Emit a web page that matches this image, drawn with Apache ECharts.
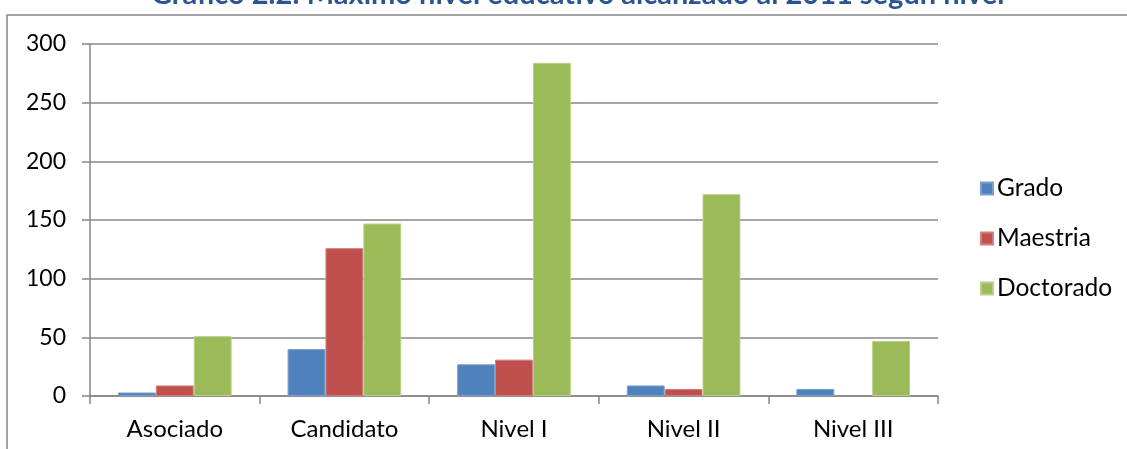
<!DOCTYPE html>
<html>
<head>
<meta charset="utf-8">
<script src="https://cdn.jsdelivr.net/npm/echarts@6/dist/echarts.min.js"></script>
<style>
  html, body { margin: 0; padding: 0; background: #fff; }
  #chart { width: 1127px; height: 449px; }
</style>
</head>
<body>
<div id="chart"></div>
<script>
// Categories (nivel) and counts per highest education level reached
const categories = ['Asociado', 'Candidato', 'Nivel I', 'Nivel II', 'Nivel III'];
const grado = [3, 40, 27, 9, 6];
const maestria = [9, 126, 31, 6, 0];
const doctorado = [51, 147, 284, 172, 47];
const yTicks = { min: 0, max: 300, interval: 50 };

const FONT = 'Lato';
const GRID = '#878787';

const chart = echarts.init(document.getElementById('chart'), null, { renderer: 'canvas' });

function barSeries(name, data, color, border) {
  return {
    name: name,
    type: 'bar',
    // zero-height bars get no outline so they stay invisible
    data: data.map(v => (v === 0 ? { value: v, itemStyle: { borderWidth: 0 } } : v)),
    barGap: '0%',
    barCategoryGap: '33%',
    itemStyle: { color: color, borderColor: border, borderWidth: 1 }
  };
}

chart.setOption({
  animation: false,
  textStyle: { fontFamily: FONT },
  title: {
    text: 'Gráfico 2.2: Máximo nivel educativo alcanzado al 2011 según nivel',
    left: 146,
    top: -25,
    textStyle: { fontFamily: FONT, fontSize: 29, fontWeight: 'bold', color: '#2A5590' }
  },
  graphic: [{
    type: 'rect',
    shape: { x: 7, y: 15, width: 1200, height: 500 },
    style: { fill: 'none', stroke: GRID, lineWidth: 1.5 },
    silent: true
  }],
  legend: {
    orient: 'vertical',
    left: 980,
    top: 176,
    padding: 0,
    itemWidth: 12,
    itemHeight: 12,
    itemGap: 25,
    icon: 'rect',
    textStyle: { fontFamily: FONT, fontSize: 24.5, color: '#000', padding: [0, 0, 0, -1] }
  },
  grid: { left: 90, right: 1127 - 938, top: 44, bottom: 449 - 396, containLabel: false },
  xAxis: {
    type: 'category',
    data: categories,
    axisLine: { lineStyle: { color: GRID, width: 1.5 } },
    axisTick: { show: true, length: 8, inside: false, lineStyle: { color: GRID, width: 1.5 } },
    axisLabel: { color: '#000', fontSize: 24, fontFamily: FONT, margin: 21 },
    splitLine: { show: false }
  },
  yAxis: {
    type: 'value',
    min: yTicks.min,
    max: yTicks.max,
    interval: yTicks.interval,
    axisLine: { show: true, lineStyle: { color: GRID, width: 1.5 } },
    axisTick: { show: true, length: 8, lineStyle: { color: GRID, width: 1.5 } },
    axisLabel: { color: '#000', fontSize: 23, fontFamily: FONT, margin: 24 },
    splitLine: { show: true, lineStyle: { color: GRID, width: 1.5 } }
  },
  series: [
    barSeries('Grado', grado, '#4F81BD', '#7A9FCF'),
    barSeries('Maestria', maestria, '#C0504D', '#D27E7C'),
    barSeries('Doctorado', doctorado, '#9BBB59', '#B9D08A')
  ]
});
</script>
</body>
</html>
